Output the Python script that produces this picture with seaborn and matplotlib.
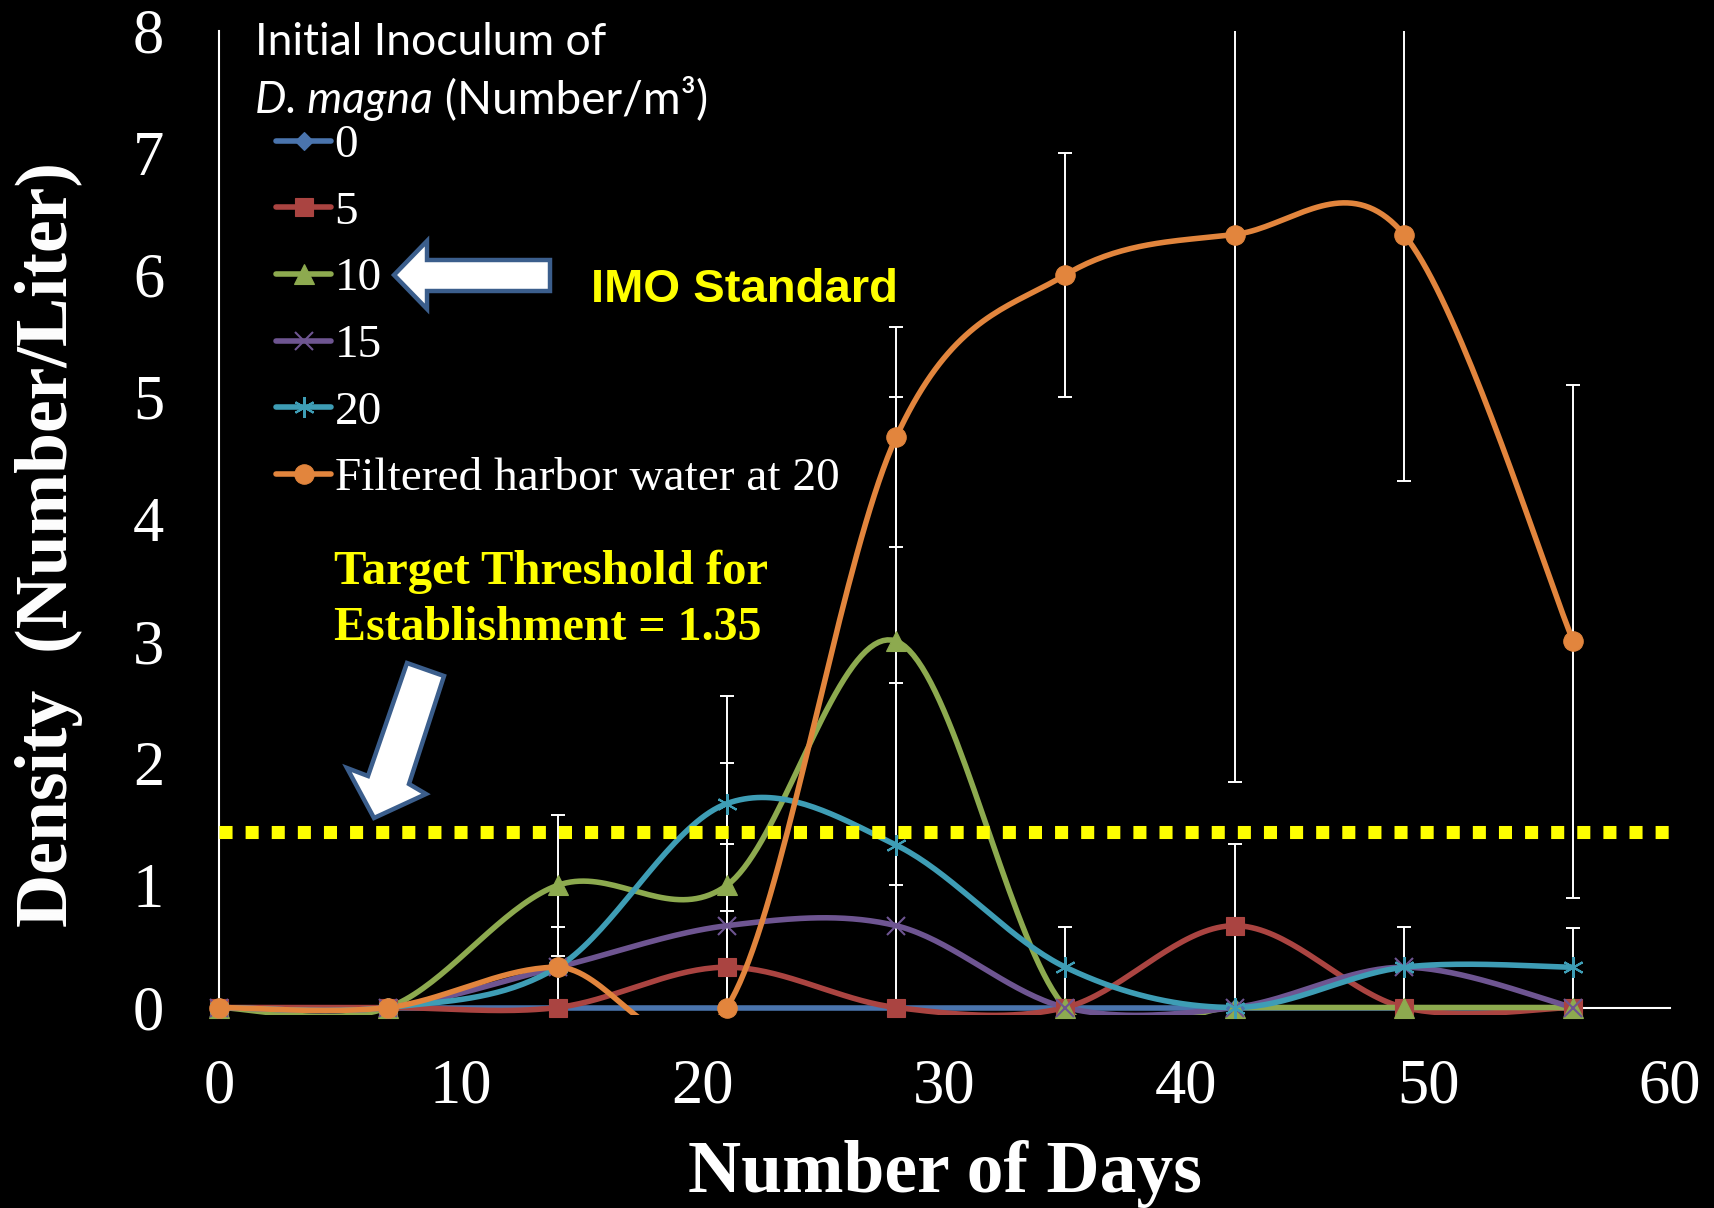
import numpy as np
import pandas as pd
import matplotlib
matplotlib.use("Agg")
import matplotlib.pyplot as plt
import seaborn as sns
from matplotlib.lines import Line2D
from matplotlib.patches import Polygon, Rectangle
from matplotlib.font_manager import FontProperties

# ---------------- data ----------------
days = [0, 7, 14, 21, 28, 35, 42, 49, 56]
series_names = ["0", "5", "10", "15", "20", "Filtered harbor water at 20"]
dens_0 = [0, 0, 0, 0, 0, 0, 0, 0, 0]
dens_5 = [0, 0, 0, 0.33, 0, 0, 0.67, 0, 0]
dens_10 = [0, 0, 1.0, 1.0, 3.0, 0, 0, 0, 0]
dens_15 = [0, 0, 0.33, 0.67, 0.67, 0, 0, 0.33, 0]
dens_20 = [0, 0, 0.33, 1.67, 1.33, 0.33, 0, 0.33, 0.33]
dens_harbor = [0, 0, 0.33, 0, 4.67, 6.0, 6.33, 6.33, 3.0]
err_0 = [0, 0, 0, 0, 0, 0, 0, 0, 0]
err_5 = [0, 0, 0, 0, 0, 0, 0.67, 0, 0]
err_10 = [0, 0, 0.58, 1.0, 2.0, 0, 0, 0, 0]
err_15 = [0, 0, 0, 0.67, 0, 0, 0, 0, 0]
err_20 = [0, 0, 0.33, 0.88, 1.33, 0.33, 0, 0.33, 0.32]
err_harbor = [0, 0, 0, 0, 0.9, 1.0, 4.48, 2.02, 2.1]
threshold_line = 1.44
x_ticks = [0, 10, 20, 30, 40, 50, 60]
y_ticks = [0, 1, 2, 3, 4, 5, 6, 7, 8]

values = [dens_0, dens_5, dens_10, dens_15, dens_20, dens_harbor]
errors = [err_0, err_5, err_10, err_15, err_20, err_harbor]
colors = ["#4A74AD", "#AA4441", "#8DAA4F", "#6E5591", "#3E9DB5", "#E2853D"]
markers = ["D", "s", "^", "x", (6, 2, 0), "o"]
msizes = [9, 13, 14, 13, 15, 14]


def smooth(xs, ys, n=40):
    """Excel-like smoothed line (Catmull-Rom Bezier through the points)."""
    p = np.column_stack([xs, ys]).astype(float)
    m = len(p)
    out = []
    t = np.linspace(0, 1, n)[:, None]
    for i in range(m - 1):
        p0 = p[max(i - 1, 0)]
        p1 = p[i]
        p2 = p[i + 1]
        p3 = p[min(i + 2, m - 1)]
        c1 = p1 + (p2 - p0) / 6.0
        c2 = p2 - (p3 - p1) / 6.0
        seg = ((1 - t) ** 3) * p1 + 3 * ((1 - t) ** 2) * t * c1 + 3 * (1 - t) * t ** 2 * c2 + t ** 3 * p2
        out.append(seg if i == 0 else seg[1:])
    out = np.vstack(out)
    return out[:, 0], out[:, 1]


rows = []
for k, (name, yv) in enumerate(zip(series_names, values)):
    xx, yy = smooth(days, yv)
    for j, (a, b) in enumerate(zip(xx, yy)):
        rows.append({"series": name, "day": a, "density": b, "idx": j})
curve_df = pd.DataFrame(rows)

# ---------------- style ----------------
sns.set_style("dark", {"axes.facecolor": "black", "figure.facecolor": "black"})
plt.rcParams["font.family"] = ["Liberation Serif", "DejaVu Serif"]
plt.rcParams["axes.unicode_minus"] = False

W, H = 1715, 1208
fig = plt.figure(figsize=(W / 100, H / 100), dpi=100, facecolor="black")
x0p, x1p, y0p, y1p = 219, 1670, 1007.5, 30.6
ax = fig.add_axes([x0p / W, 1 - y0p / H, (x1p - x0p) / W, (y0p - y1p) / H])
ax.set_facecolor("black")

LW = 4.0

# error bars
for yv, ev in zip(values, errors):
    idx = [i for i, e in enumerate(ev) if e > 0]
    if idx:
        ax.errorbar([days[i] for i in idx], [yv[i] for i in idx], yerr=[ev[i] for i in idx],
                    fmt="none", ecolor="white", elinewidth=1.4, capsize=4.7, capthick=1.4, zorder=1.5)

# smoothed lines
palette = dict(zip(series_names, colors))
sns.lineplot(data=curve_df, x="day", y="density", hue="series", hue_order=series_names,
             palette=palette, sort=False, estimator=None, units="series", linewidth=LW,
             legend=False, ax=ax, zorder=2)
clip_rect = Rectangle((0, -0.008), 1, 1.02, transform=ax.transAxes, facecolor="none", edgecolor="none")
ax.add_patch(clip_rect)
for ln in ax.lines:
    ln.set_clip_path(clip_rect)
    ln.set_solid_capstyle("round")

# markers
for k, (yv, c, mk, ms) in enumerate(zip(values, colors, markers, msizes)):
    ax.plot(days, yv, linestyle="none", marker=mk, markersize=ms, color=c,
            markeredgecolor=c, markeredgewidth=1.5 if mk in ("x", (6, 2, 0)) else 0.8,
            clip_on=False, zorder=3 + k * 0.01)

# threshold dotted line
ax.axhline(threshold_line, color="#FFFF00", lw=9.4, dashes=(1, 1), dash_capstyle="butt", zorder=5)

ax.set_xlim(0, 60)
ax.set_ylim(0, 8)
ax.set_xticks(x_ticks)
ax.set_yticks(y_ticks)
ax.tick_params(axis="y", direction="out", length=11.5, width=1.5, colors="white", pad=28, labelsize=45)
ax.tick_params(axis="x", direction="out", length=13, width=1.5, colors="white", pad=24, labelsize=45)
for s in ["top", "right"]:
    ax.spines[s].set_visible(False)
for s in ["left", "bottom"]:
    ax.spines[s].set_color("white")
    ax.spines[s].set_linewidth(1.5)
    ax.spines[s].set_zorder(0.5)
ax.grid(False)

ax.set_xlabel("Number of Days", fontsize=53, fontweight="bold", color="white", va="baseline")
ax.xaxis.set_label_coords(0.5, (y0p - 1192) / (y0p - y1p))
ax.set_ylabel("Density  (Number/Liter)", fontsize=53, fontweight="bold", color="white", va="center")
ax.yaxis.set_label_coords((49 - x0p) / (x1p - x0p), (y0p - 544) / (y0p - y1p))

# legend
handles = [Line2D([0], [0], color=c, lw=LW, marker=mk, markersize=ms, markeredgecolor=c,
                  markeredgewidth=1.5 if mk in ("x", (6, 2, 0)) else 0.8)
           for c, mk, ms in zip(colors, markers, msizes)]
leg = ax.legend(handles, series_names, loc="upper left", bbox_to_anchor=(276 / W, 1 - 124 / H),
                bbox_transform=fig.transFigure, frameon=False,
                prop=FontProperties(family="Liberation Serif", size=34),
                handlelength=1.17, handletextpad=0.07, labelspacing=0.5, borderpad=0,
                borderaxespad=0, labelcolor="white")
leg.set_zorder(6)

# legend title (two lines, partly italic)
def fx(px):
    return px / W


def fy(py):
    return 1 - py / H


tfont = "Lato"
fig.text(fx(255), fy(55), "Initial Inoculum of", fontsize=32, family=tfont, color="white", va="baseline")
t_it = fig.text(fx(255), fy(113), "D. magna", fontsize=32, family=tfont, style="italic", color="white", va="baseline")
fig.canvas.draw()
r = fig.canvas.get_renderer()
bb = t_it.get_window_extent(r)
fig.text(bb.x1 / W, fy(113), " (Number/m³)", fontsize=33, family=tfont, color="white", va="baseline")

# annotations
fig.text(fx(591), fy(302), "IMO Standard", fontsize=34, family="Liberation Sans", fontweight="bold",
         color="#FFFF00", va="baseline")
fig.text(fx(334), fy(584), "Target Threshold for", fontsize=35, family="Liberation Serif", fontweight="bold",
         color="#FFFF00", va="baseline")
fig.text(fx(334), fy(640), "Establishment = 1.35", fontsize=34.5, family="Liberation Serif", fontweight="bold",
         color="#FFFF00", va="baseline")

edge = "#3B5E8C"
imo_arrow = [(394, 275), (427, 241), (427, 260), (550, 260), (550, 291), (427, 291), (427, 309)]
tgt_arrow = [(407, 663), (444, 676), (409, 784), (426, 794), (374, 818), (347, 768), (368, 776)]
for pts in (imo_arrow, tgt_arrow):
    poly = Polygon([(fx(a), fy(b)) for a, b in pts], closed=True, transform=fig.transFigure,
                   facecolor="white", edgecolor=edge, linewidth=3.2, joinstyle="miter", zorder=10)
    fig.patches.append(poly)

fig.savefig("out.png", dpi=100, facecolor="black")
